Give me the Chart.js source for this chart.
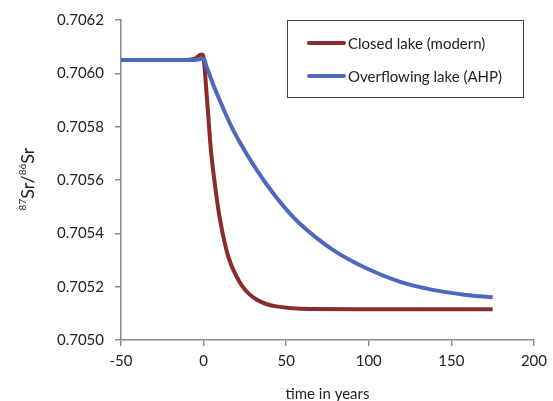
<!DOCTYPE html>
<html>
<head>
<meta charset="utf-8">
<script src="https://cdn.jsdelivr.net/npm/chart.js@4.4.1/dist/chart.umd.min.js"></script>
<style>
  html, body { margin: 0; padding: 0; background: #fff; }
  #wrap { width: 553px; height: 401px; }
</style>
</head>
<body>
<div id="wrap"><canvas id="srChart" width="553" height="401"></canvas></div>
<script>
// ===== Data =====
const seriesNames = ['Closed lake (modern)', 'Overflowing lake (AHP)'];

const closedYears = [-50, -10, -5, -2, -0.5, 0.5, 1.5, 2.6, 3.6, 4.7, 6.7, 9.7, 13.7, 16.5, 19.8, 23.5,
                     27.8, 32, 37.9, 44, 52, 65, 100, 175];
const closedRatio = [0.70605, 0.70605, 0.706055, 0.70607, 0.70607, 0.70603, 0.70595, 0.70586, 0.705775, 0.705695,
                     0.70559, 0.70546, 0.70534, 0.705285, 0.70524, 0.705201, 0.705171, 0.705152, 0.705135, 0.705126,
                     0.70512, 0.705116, 0.705115, 0.705115];

const overflowYears = [-50, -5, -1, 0.5, 1.5, 3, 6, 9.7, 13.7, 17.7, 22.7, 27.8, 33, 38, 44, 50, 58,
                       78.3, 98.5, 118.6, 138.8, 159, 175];
const overflowRatio = [0.70605, 0.70605, 0.706055, 0.70605, 0.70603, 0.706005, 0.705955, 0.7059, 0.705843, 0.70579,
                       0.705733, 0.70568, 0.70563, 0.705585, 0.705535, 0.70549, 0.705438, 0.705338, 0.705269,
                       0.705219, 0.705188, 0.705169, 0.70516];

const xTicks = [-50, 0, 50, 100, 150, 200];
const yTicks = [0.7050, 0.7052, 0.7054, 0.7056, 0.7058, 0.7060, 0.7062];

const FONT = 'Lato, "Open Sans", sans-serif';
const AXIS_GREY = '#8a8a8a';
const RED = '#8b2c2c';
const BLUE = '#4d68bd';

function toPoints(xs, ys) {
  return xs.map((x, i) => ({ x: x, y: ys[i] }));
}

// ===== Legend box drawn in the top-right corner =====
const boxLegend = {
  id: 'boxLegend',
  afterDraw(chart) {
    const ctx = chart.ctx;
    const ds = chart.data.datasets;
    const left = 287, top = 20, w = 236, h = 77;
    ctx.save();
    ctx.fillStyle = '#fff';
    ctx.fillRect(left, top, w, h);
    ctx.strokeStyle = '#444';
    ctx.lineWidth = 1;
    ctx.strokeRect(left + 0.5, top + 0.5, w, h);
    ctx.font = '15px ' + FONT;
    ctx.textBaseline = 'middle';
    ctx.fillStyle = '#222';
    const rows = [43, 76];
    // legend order: closed lake first
    const order = [ds.findIndex(d => d.label === seriesNames[0]), ds.findIndex(d => d.label === seriesNames[1])];
    order.forEach((idx, r) => {
      ctx.strokeStyle = ds[idx].borderColor;
      ctx.lineWidth = 4;
      ctx.lineCap = 'round';
      ctx.beginPath();
      ctx.moveTo(309, rows[r]);
      ctx.lineTo(344, rows[r]);
      ctx.stroke();
      ctx.fillText(ds[idx].label, 348, rows[r] + 1);
    });
    ctx.restore();
  }
};

// ===== Rotated y title with superscript isotope numbers =====
const isoTitle = {
  id: 'isoTitle',
  afterDraw(chart) {
    const ctx = chart.ctx;
    const parts = [
      { t: '87', sup: true }, { t: 'Sr/', sup: false },
      { t: '86', sup: true }, { t: 'Sr', sup: false }
    ];
    const big = '18px ' + FONT, small = '10px ' + FONT;
    ctx.save();
    let total = 0;
    parts.forEach(p => { ctx.font = p.sup ? small : big; total += ctx.measureText(p.t).width; });
    ctx.translate(27, (chart.chartArea.top + chart.chartArea.bottom) / 2 - 1);
    ctx.rotate(-Math.PI / 2);
    ctx.fillStyle = '#222';
    ctx.textBaseline = 'alphabetic';
    let x = -total / 2;
    parts.forEach(p => {
      ctx.font = p.sup ? small : big;
      ctx.fillText(p.t, x, p.sup ? -1 : 7);
      x += ctx.measureText(p.t).width;
    });
    ctx.restore();
  }
};

document.addEventListener('DOMContentLoaded', () => {
  const ctx = document.getElementById('srChart').getContext('2d');
  new Chart(ctx, {
    type: 'line',
    data: {
      datasets: [
        {
          label: seriesNames[0],
          data: toPoints(closedYears, closedRatio),
          borderColor: RED,
          borderWidth: 4,
          pointRadius: 0,
          cubicInterpolationMode: 'monotone',
          order: 1
        },
        {
          label: seriesNames[1],
          data: toPoints(overflowYears, overflowRatio),
          borderColor: BLUE,
          borderWidth: 4,
          pointRadius: 0,
          cubicInterpolationMode: 'monotone',
          order: 0
        }
      ]
    },
    options: {
      responsive: false,
      animation: false,
      layout: { padding: { left: 0, right: 19, top: 20, bottom: 0 } },
      scales: {
        x: {
          type: 'linear',
          min: -50,
          max: 200,
          afterBuildTicks: s => { s.ticks = xTicks.map(v => ({ value: v })); },
          afterFit: s => { s.height = 61; },
          border: { color: AXIS_GREY, width: 1.5 },
          grid: { drawOnChartArea: false, color: AXIS_GREY, tickLength: 6, lineWidth: 1.5 },
          ticks: { color: '#222', font: { family: FONT, size: 15 }, padding: 6, maxRotation: 0 },
          title: {
            display: true,
            text: 'time in years',
            color: '#222',
            font: { family: FONT, size: 15 },
            padding: { top: 4, bottom: -2 }
          }
        },
        y: {
          min: 0.7050,
          max: 0.7062,
          afterBuildTicks: s => { s.ticks = yTicks.map(v => ({ value: v })); },
          afterFit: s => { s.width = 121; },
          border: { color: AXIS_GREY, width: 1.5 },
          grid: { drawOnChartArea: false, color: AXIS_GREY, tickLength: 6, lineWidth: 1.5 },
          ticks: {
            color: '#222',
            font: { family: FONT, size: 15 },
            padding: 11,
            callback: v => Number(v).toFixed(4)
          }
        }
      },
      plugins: {
        legend: { display: false },
        tooltip: { enabled: false }
      }
    },
    plugins: [boxLegend, isoTitle]
  });
});
</script>
</body>
</html>
